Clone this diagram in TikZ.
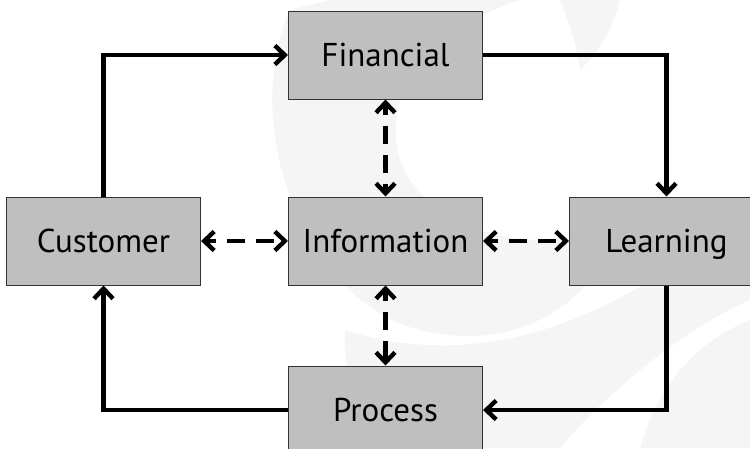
\documentclass[tikz,border=0pt]{standalone}
\usepackage{fontspec}
\setmainfont{PT Sans}
\usepackage{tikz}
\usetikzlibrary{positioning,arrows.meta}

\begin{document}
\begin{tikzpicture}[
      x=1pt, y=-1pt,
      bloc/.style={draw=black!80, line width=1pt, fill=black!25,
        minimum width=194pt, minimum height=88pt,
        font=\fontsize{33}{37}\selectfont, text height=23pt, text depth=0pt},
      tip/.style={-{Straight Barb[length=10pt, width=19pt, line width=4.4pt]}},
      flow/.style={draw, line width=4.2pt, tip},
      communication/.style={draw, line width=4.2pt,
        {Straight Barb[length=10pt, width=19pt, line width=4.4pt]}-{Straight Barb[length=10pt, width=19pt, line width=4.4pt]},
        dash pattern=on 18pt off 11pt, dash phase=8pt},
      watermark/.style={fill=black!4}
      ]

      % Cadre de la figure
      \path[use as bounding box] (0,0) rectangle (750,448);

      % Filigrane en fond
      \path[watermark] (290,10) .. controls (240,120) and (300,300) .. (420,330)
        .. controls (520,355) and (600,300) .. (620,220)
        .. controls (560,260) and (430,240) .. (400,160)
        .. controls (380,90) and (430,30) .. (520,0) -- (330,0) -- cycle;
      \path[watermark] (345,330) .. controls (340,420) and (400,448) .. (430,448)
        -- (560,448) .. controls (600,400) and (680,330) .. (750,300)
        -- (750,200) .. controls (650,300) and (500,380) .. (345,330);
      \path[watermark] (560,0) -- (620,0) .. controls (610,40) and (590,60) .. (580,70)
        .. controls (575,40) .. (560,0);
      \path[watermark] (640,448) .. controls (660,380) and (700,340) .. (750,320)
        -- (750,448) -- cycle;

      \path node[bloc] (information) at (385.5,241) {Information};
      \path node[bloc, above=97pt of information] (financial) {Financial};
      \path node[bloc, left=87pt of information] (customer) {Customer};
      \path node[bloc, right=86pt of information] (learning) {Learning};
      \path node[bloc, below=80pt of information] (process) {Process};

      \path[flow] (customer.north) |- (financial.west);
      \path[flow] (financial.east) -| (learning.north);
      \path[flow] (learning.south) |- (process.east);
      \path[flow] (process.west) -| (customer.south);

      \path[communication] (customer.east) -- (information.west);
      \path[communication] (information.east) -- (learning.west);
      \path[communication] (financial.south) -- (information.north);
      \path[communication] (information.south) -- (process.north);
    \end{tikzpicture}
\end{document}
